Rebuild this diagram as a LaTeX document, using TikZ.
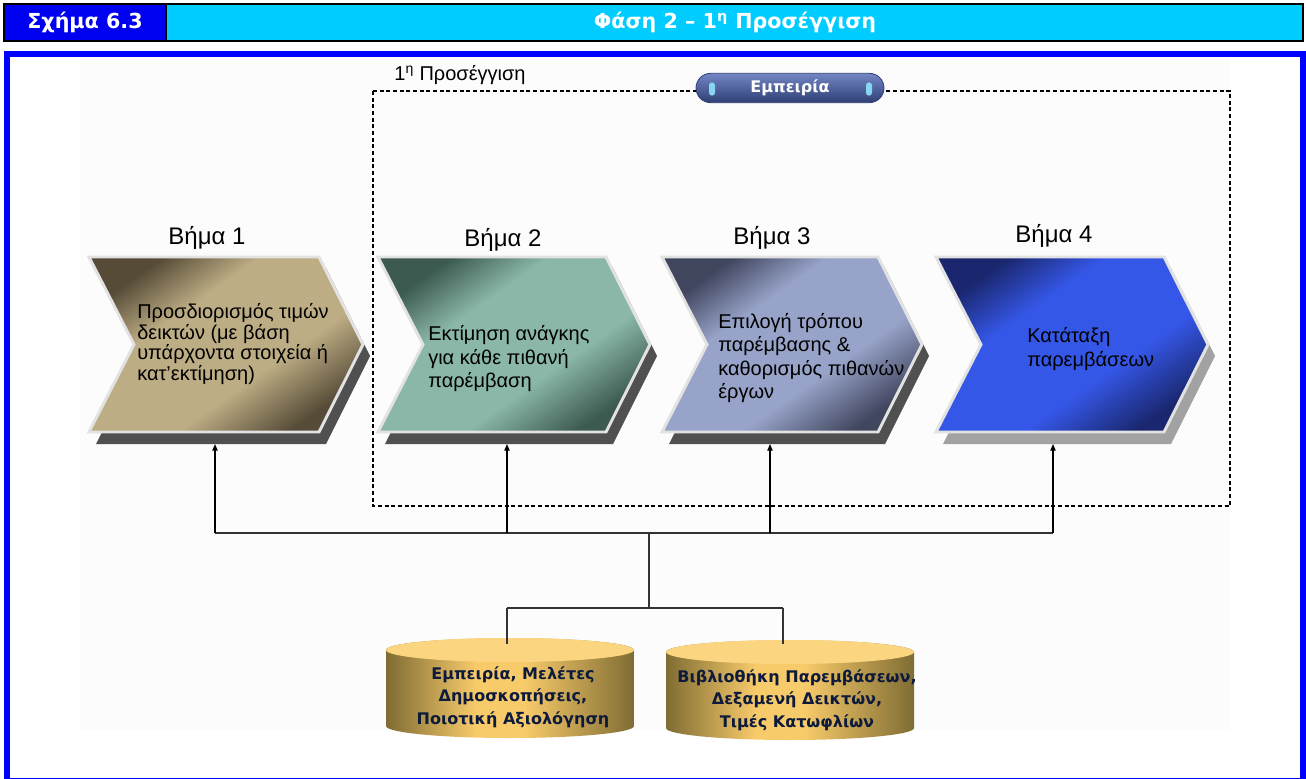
\documentclass[tikz,border=0pt]{standalone}
\usepackage{fontspec}
\setmainfont{Liberation Sans}
\newfontfamily\verdfont{DejaVu Sans}
\usepackage{tikz}
\usetikzlibrary{arrows.meta}
\definecolor{titleblue}{HTML}{0000F0}
\definecolor{titlecyan}{HTML}{00CCFF}
\definecolor{frameblue}{HTML}{0000FF}
\definecolor{bgpale}{HTML}{FCFCFC}
\definecolor{chevrim}{HTML}{E2E2E2}
\definecolor{shadowdk}{HTML}{505050}
\definecolor{shadowlt}{HTML}{A2A2A2}
\definecolor{tandark}{HTML}{564B37}
\definecolor{tanlight}{HTML}{BDAD84}
\definecolor{sagedark}{HTML}{3C5A4F}
\definecolor{sagelight}{HTML}{8AB7A7}
\definecolor{slatedark}{HTML}{41465F}
\definecolor{slatelight}{HTML}{97A3C8}
\definecolor{royaldark}{HTML}{1A276E}
\definecolor{royallight}{HTML}{3557E8}
\definecolor{golddark}{HTML}{7F6C33}
\definecolor{goldlight}{HTML}{F7CA6A}
\definecolor{goldtop}{HTML}{FCD580}
\definecolor{dbink}{HTML}{0D1A3C}
\definecolor{pilltop}{HTML}{7386C4}
\definecolor{pillbot}{HTML}{2F3F74}
\definecolor{pillslot}{HTML}{86D6F2}
\newcommand\stepshade[3]{\pgfdeclareverticalshading{#1}{100bp}{color(0bp)=(#2);color(25bp)=(#2);color(40bp)=(#3);color(62bp)=(#3);color(75bp)=(#2);color(100bp)=(#2)}}
\stepshade{shadeone}{tandark}{tanlight}
\stepshade{shadetwo}{sagedark}{sagelight}
\stepshade{shadethree}{slatedark}{slatelight}
\stepshade{shadefour}{royaldark}{royallight}
\pgfdeclarehorizontalshading{cylside}{100bp}{color(0bp)=(golddark);color(25bp)=(golddark);color(43bp)=(goldlight);color(53bp)=(goldlight);color(75bp)=(golddark);color(100bp)=(golddark)}
% #1 left x, #2 width, #3 shading, #4 shadow colour
\newcommand\chevron[4]{%
  \path[fill=#4] (#1+7,268) -- ++(#2-44,0) -- ++(44,88) -- ++(-44,88) -- ++(-#2+44,0) -- ++(45,-88) -- cycle;
  \path[shade,shading=#3,shading angle=35,draw=chevrim,line width=2.2pt,line join=miter] (#1,257) -- ++(#2-44,0) -- ++(44,87.5) -- ++(-44,87.5) -- ++(-#2+44,0) -- ++(45,-87.5) -- cycle;}
% #1 centre x, #2 top y, #3 bottom y
\newcommand\dbcyl[3]{%
  \path[shade,shading=cylside] (#1-124,#2) -- (#1-124,#3) arc[start angle=180,end angle=0,x radius=124,y radius=12] -- (#1+124,#2) arc[start angle=0,end angle=-180,x radius=124,y radius=12] -- cycle;
  \path[fill=goldtop] (#1,#2) ellipse[x radius=124,y radius=12];}
\begin{document}
\begin{tikzpicture}[x=0.75pt,y=-0.75pt,
  titletxt/.style={font=\verdfont\bfseries\fontsize{15.5}{18}\selectfont,text=white,inner sep=0pt},
  steplbl/.style={font=\fontsize{18}{20}\selectfont,text=black,inner sep=0pt},
  chevtxt/.style={font=\fontsize{15}{17.6}\selectfont,text=black,align=left,anchor=west,inner sep=0pt},
  dbtxt/.style={font=\verdfont\bfseries\fontsize{12}{17}\selectfont,text=dbink,align=center,inner sep=0pt},
  pill/.style={font=\verdfont\bfseries\fontsize{12}{14}\selectfont,text=white,rounded corners=11pt,minimum width=141pt,minimum height=22pt,top color=pilltop,bottom color=pillbot,draw=pillbot,line width=0.6pt},
  slot/.style={fill=pillslot,rounded corners=2.2pt,minimum width=4.5pt,minimum height=10pt,inner sep=0pt},
  bus/.style={draw=black!80,line width=0.9pt},
  feed/.style={draw=black,line width=0.9pt,-{Triangle[length=5pt,width=4pt]}}]
\useasboundingbox (0,0) rectangle (1306,778);
\fill[white] (0,0) rectangle (1306,778);
\fill[titleblue] (4,4) rectangle (166,41);
\fill[titlecyan] (166,4) rectangle (1303,41);
\draw[black,line width=2pt] (4,4) rectangle (1303,41);
\draw[black,line width=1.5pt] (166,4) -- (166,41);
\node[titletxt] (fig) at (85,22.5) {Σχήμα 6.3};
\node[titletxt] (phase) at (735,22.5) {Φάση 2 – 1\textsuperscript{η} Προσέγγιση};
\draw[frameblue,line width=4.5pt] (7,54) rectangle (1303,781);
\fill[bgpale] (80,58) rectangle (1230,730);
\draw[black,line width=0.9pt,dash pattern=on 3pt off 2pt] (373,91) rectangle (1230,506);
\node[font=\fontsize{15}{17}\selectfont,inner sep=0pt] (approach) at (460,75) {1\textsuperscript{η} Προσέγγιση};
\node[pill] (emp) at (790,88) {Εμπειρία};
\node[slot] (slotl) at (712,89) {};
\node[slot] (slotr) at (869,89) {};
\chevron{89}{274}{shadeone}{shadowdk}
\chevron{378}{272}{shadetwo}{shadowdk}
\chevron{662}{260}{shadethree}{shadowdk}
\chevron{936}{272}{shadefour}{shadowlt}
\node[steplbl] (v1) at (207,238) {Βήμα 1};
\node[steplbl] (v2) at (503,240) {Βήμα 2};
\node[steplbl] (v3) at (772,238) {Βήμα 3};
\node[steplbl] (v4) at (1054,236) {Βήμα 4};
\node[chevtxt,font=\fontsize{15}{13.7}\selectfont] (s1) at (137,344) {Προσδιορισμός τιμών\\δεικτών (με βάση\\υπάρχοντα στοιχεία ή\\κατ’εκτίμηση)};
\node[chevtxt] (s2) at (428,359) {Εκτίμηση ανάγκης\\για κάθε πιθανή\\παρέμβαση};
\node[chevtxt] (s3) at (718,358) {Επιλογή τρόπου\\παρέμβασης \&\\καθορισμός πιθανών\\έργων};
\node[chevtxt] (s4) at (1027,349) {Κατάταξη\\παρεμβάσεων};
\dbcyl{510}{650}{726}
\dbcyl{790}{652}{728}
\node[dbtxt] (db1) at (513,697) {Εμπειρία, Μελέτες\\Δημοσκοπήσεις,\\Ποιοτική Αξιολόγηση};
\node[dbtxt] (db2) at (797,700) {Βιβλιοθήκη Παρεμβάσεων,\\Δεξαμενή Δεικτών,\\Τιμές Κατωφλίων};
\coordinate (in1) at (215,444);
\coordinate (in2) at (507,444);
\coordinate (in3) at (770,444);
\coordinate (in4) at (1053,444);
\coordinate (b1) at (215,533);
\coordinate (b2) at (507,533);
\coordinate (b3) at (770,533);
\coordinate (b4) at (1053,533);
\coordinate (hub) at (649,533);
\coordinate (split) at (649,608);
\coordinate (d1) at (507,608);
\coordinate (d2) at (783,608);
\coordinate (c1) at (507,644);
\coordinate (c2) at (783,644);
\draw[bus] (b1) -- (b4);
\draw[bus] (hub) -- (split);
\draw[bus] (d1) -- (d2);
\draw[bus] (d1) -- (c1);
\draw[bus] (d2) -- (c2);
\draw[feed] (b1) -- (in1);
\draw[feed] (b2) -- (in2);
\draw[feed] (b3) -- (in3);
\draw[feed] (b4) -- (in4);
\end{tikzpicture}
\end{document}
